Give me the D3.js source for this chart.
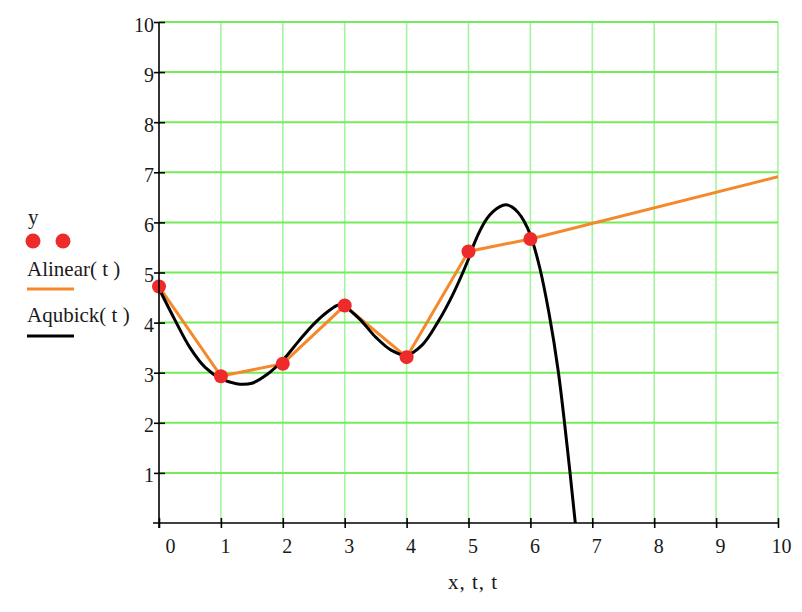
<!DOCTYPE html>
<html>
<head>
<meta charset="utf-8">
<script src="https://cdn.jsdelivr.net/npm/d3@7/dist/d3.min.js"></script>
<style>
  html, body { margin: 0; padding: 0; background: #fff; }
  svg { display: block; }
  text { font-family: "Liberation Serif", "Times New Roman", serif; fill: #1a1a1a; }
</style>
</head>
<body>
<svg id="chart" width="802" height="612"></svg>
<script>
// ---- data ----
const xData = [0, 1, 2, 3, 4, 5, 6];
const yData = [4.72, 2.93, 3.18, 4.34, 3.31, 5.42, 5.67];

// Alinear(t): linear interpolation vertices (incl. extrapolated end at t = 10)
const tLinear = [0, 1, 2, 3, 4, 5, 6, 10];
const yLinear = [4.72, 2.93, 3.18, 4.34, 3.31, 5.42, 5.67, 6.91];

// Aqubick(t): cubic curve
const tCubic = [0, 0.25, 0.5, 0.75, 1.0, 1.25, 1.5, 1.75, 2.0, 2.25, 2.5, 2.75, 2.9, 3.0, 3.25, 3.5, 3.75, 4.0, 4.25, 4.5, 4.75, 5.0, 5.1, 5.2, 5.3, 5.4, 5.5, 5.6, 5.7, 5.8, 5.9, 6.0, 6.15, 6.3, 6.45, 6.6, 6.72, 6.76];
const yCubic = [4.68, 4.07, 3.5, 3.1, 2.88, 2.78, 2.79, 2.97, 3.25, 3.62, 3.97, 4.24, 4.35, 4.32, 4.06, 3.71, 3.45, 3.35, 3.55, 4.0, 4.57, 5.27, 5.6, 5.87, 6.08, 6.22, 6.31, 6.35, 6.31, 6.2, 6.02, 5.75, 5.1, 4.19, 3.03, 1.46, 0.06, -0.4];

const xTicks = [0, 1, 2, 3, 4, 5, 6, 7, 8, 9, 10];
const yTicks = [1, 2, 3, 4, 5, 6, 7, 8, 9, 10];
const xTickLabels = ["0", "1", "2", "3", "4", "5", "6", "7", "8", "9", "10"];
const yTickLabels = ["1", "2", "3", "4", "5", "6", "7", "8", "9", "10"];
const xAxisTitle = "x, t, t";
const legendLabels = ["y", "Alinear( t )", "Aqubick( t )"];

// ---- layout ----
const svg = d3.select("#chart");
const L = 159, R = 778, T = 22, B = 523;
const x = d3.scaleLinear().domain([0, 10]).range([L, R]);
const y = d3.scaleLinear().domain([0, 10]).range([B, T]);

const colOrange = "#f5882a", colRed = "#ee2b2b", colBlack = "#000";

// grid
const grid = svg.append("g");
grid.selectAll("line.v").data(xTicks.filter(d => d > 0)).join("line")
  .attr("x1", d => x(d)).attr("x2", d => x(d))
  .attr("y1", y(10)).attr("y2", y(0))
  .attr("stroke", "#a3f59c").attr("stroke-width", 1.6);
grid.selectAll("line.h").data(yTicks).join("line")
  .attr("x1", x(0)).attr("x2", x(10))
  .attr("y1", d => y(d)).attr("y2", d => y(d))
  .attr("stroke", "#72ec58").attr("stroke-width", 2);

// clip
svg.append("defs").append("clipPath").attr("id", "plotclip")
  .append("rect").attr("x", L).attr("y", T).attr("width", R - L).attr("height", B - T);

const plot = svg.append("g").attr("clip-path", "url(#plotclip)");

const lineGen = d3.line().x(d => x(d[0])).y(d => y(d[1]));

plot.append("path")
  .datum(tLinear.map((t, i) => [t, yLinear[i]]))
  .attr("d", lineGen)
  .attr("fill", "none").attr("stroke", colOrange).attr("stroke-width", 3);

svg.append("g").selectAll("circle").data(xData.map((t, i) => [t, yData[i]])).join("circle")
  .attr("cx", d => x(d[0])).attr("cy", d => y(d[1])).attr("r", 7)
  .attr("fill", colRed);

plot.append("path")
  .datum(tCubic.map((t, i) => [t, yCubic[i]]))
  .attr("d", d3.line().x(d => x(d[0])).y(d => y(d[1])).curve(d3.curveCatmullRom.alpha(0.5)))
  .attr("fill", "none").attr("stroke", colBlack).attr("stroke-width", 3);

// axes
const xAxis = d3.axisBottom(x).tickValues(xTicks).tickFormat((d, i) => xTickLabels[i]).tickSize(5).tickSizeOuter(0);
const gx = svg.append("g").attr("transform", `translate(0,${B})`).call(xAxis);
gx.select(".domain").remove();
gx.append("line").attr("x1", L - 6).attr("x2", R).attr("y1", 0).attr("y2", 0)
  .attr("stroke", "#000").attr("stroke-width", 1.6);
gx.selectAll(".tick line").attr("y1", -5).attr("y2", 5).attr("stroke", "#000").attr("stroke-width", 1.6);
gx.selectAll(".tick text")
  .attr("text-anchor", "start")
  .attr("y", 30).attr("dy", 0)
  .attr("dx", (d, i) => i === 0 ? 6 : (i === xTicks.length - 1 ? -7 : -1))
  .style("font-size", "20px").style("fill", "#1a1a1a")
  .style("font-family", "'Liberation Serif', serif");

const yAxis = d3.axisLeft(y).tickValues(yTicks).tickFormat((d, i) => yTickLabels[i]).tickSize(5).tickSizeOuter(0);
const gy = svg.append("g").attr("transform", `translate(${L},0)`).call(yAxis);
gy.select(".domain").remove();
gy.append("line").attr("x1", 0).attr("x2", 0).attr("y1", T).attr("y2", B + 5)
  .attr("stroke", "#000").attr("stroke-width", 1.6);
gy.selectAll(".tick line").attr("x1", -5).attr("x2", 6).attr("stroke", "#000").attr("stroke-width", 1.6);
gy.selectAll(".tick text")
  .attr("x", -5).attr("dy", "0.45em")
  .style("font-size", "20px").style("fill", "#1a1a1a")
  .style("font-family", "'Liberation Serif', serif");

// x axis title
svg.append("text").attr("x", 448).attr("y", 589)
  .style("font-size", "21px").style("letter-spacing", "1px").text(xAxisTitle);

// legend
const lg = svg.append("g");
lg.append("text").attr("x", 28).attr("y", 224).style("font-size", "21px").text(legendLabels[0]);
lg.selectAll("circle").data([33, 63]).join("circle")
  .attr("cx", d => d).attr("cy", 241).attr("r", 7.5).attr("fill", colRed);
lg.append("text").attr("x", 27).attr("y", 276).style("font-size", "21px").text(legendLabels[1]);
lg.append("line").attr("x1", 27).attr("x2", 74).attr("y1", 289).attr("y2", 289)
  .attr("stroke", colOrange).attr("stroke-width", 3);
lg.append("text").attr("x", 27).attr("y", 322).style("font-size", "21px").text(legendLabels[2]);
lg.append("line").attr("x1", 27).attr("x2", 74).attr("y1", 336).attr("y2", 336)
  .attr("stroke", colBlack).attr("stroke-width", 3);
</script>
</body>
</html>
